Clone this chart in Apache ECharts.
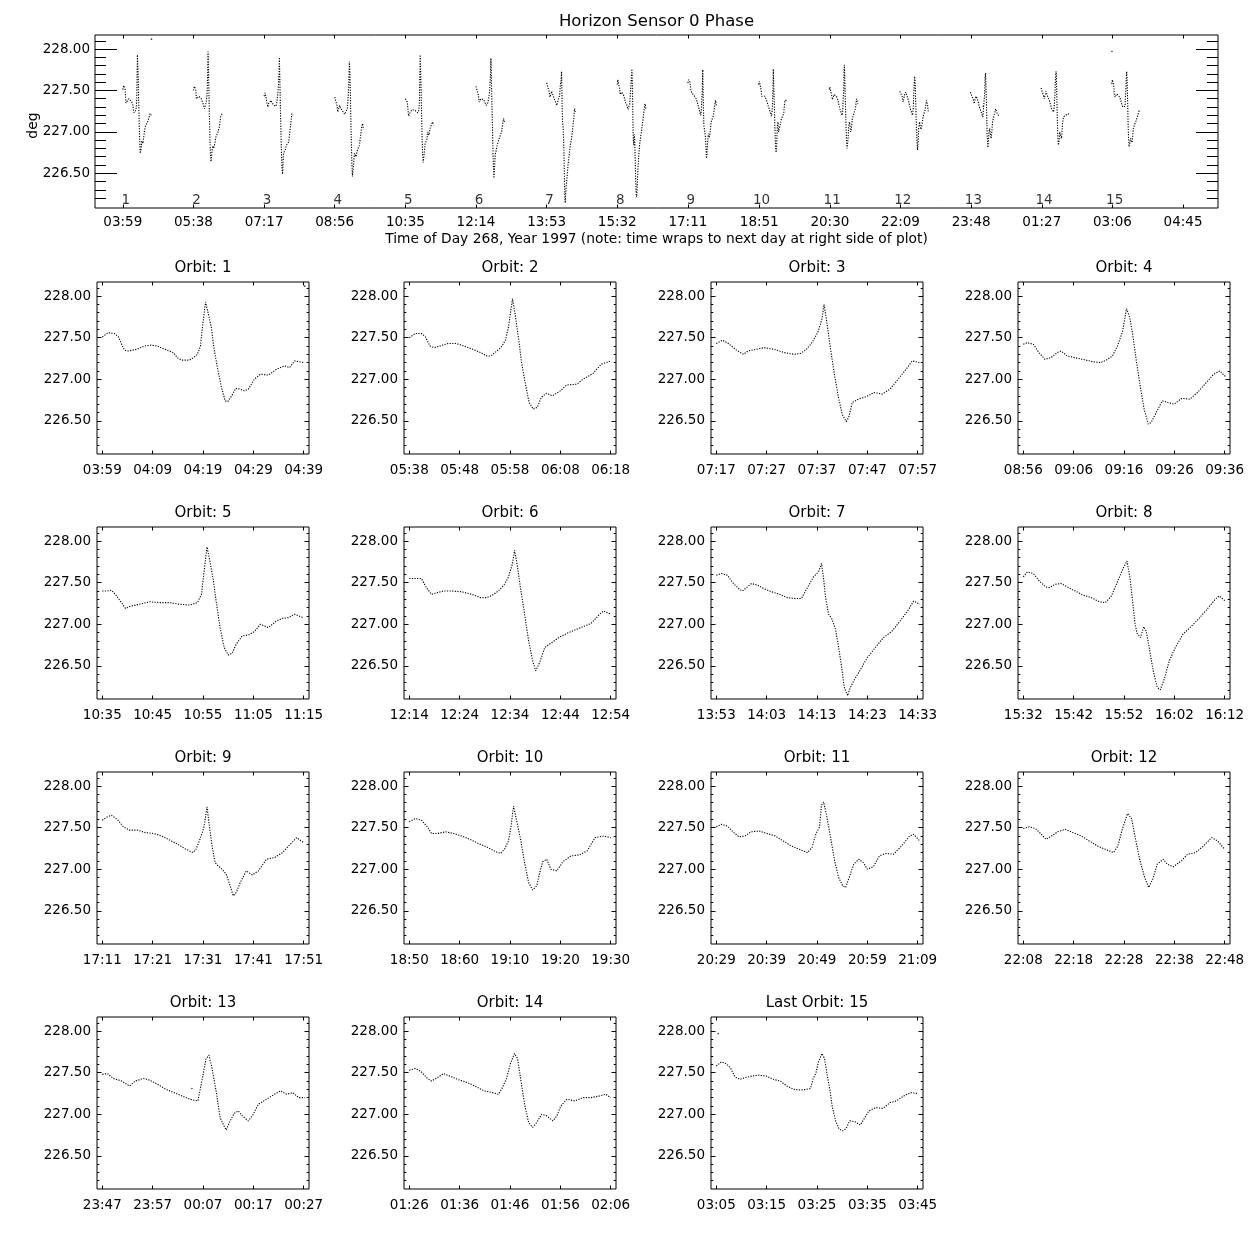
<!DOCTYPE html>
<html><head><meta charset="utf-8">
<script src="https://cdn.jsdelivr.net/npm/echarts@6/dist/echarts.min.js"></script>
<style>html,body{margin:0;padding:0;background:#fff}#c{width:1250px;height:1250px}</style>
</head><body><div id="c"></div>
<script>
// ---------------- DATA ----------------
const chartTitle = "Horizon Sensor 0 Phase";
const topXTitle = "Time of Day 268, Year 1997 (note: time wraps to next day at right side of plot)";
const yTitle = "deg";
const topTickLabels = ["03:59","05:38","07:17","08:56","10:35","12:14","13:53","15:32","17:11","18:51","20:30","22:09","23:48","01:27","03:06","04:45"];
const orbitTitles = ["Orbit: 1","Orbit: 2","Orbit: 3","Orbit: 4","Orbit: 5","Orbit: 6","Orbit: 7","Orbit: 8","Orbit: 9","Orbit: 10","Orbit: 11","Orbit: 12","Orbit: 13","Orbit: 14","Last Orbit: 15"];
const orbitTickLabels = [
 ["03:59","04:09","04:19","04:29","04:39"],
 ["05:38","05:48","05:58","06:08","06:18"],
 ["07:17","07:27","07:37","07:47","07:57"],
 ["08:56","09:06","09:16","09:26","09:36"],
 ["10:35","10:45","10:55","11:05","11:15"],
 ["12:14","12:24","12:34","12:44","12:54"],
 ["13:53","14:03","14:13","14:23","14:33"],
 ["15:32","15:42","15:52","16:02","16:12"],
 ["17:11","17:21","17:31","17:41","17:51"],
 ["18:50","18:60","19:10","19:20","19:30"],
 ["20:29","20:39","20:49","20:59","21:09"],
 ["22:08","22:18","22:28","22:38","22:48"],
 ["23:47","23:57","00:07","00:17","00:27"],
 ["01:26","01:36","01:46","01:56","02:06"],
 ["03:05","03:15","03:25","03:35","03:45"]
];
const yMajorTicks = [226.5,227.0,227.5,228.0];
const yMinorTicks = [226.2,226.3,226.4,226.6,226.7,226.8,226.9,227.1,227.2,227.3,227.4,227.6,227.7,227.8,227.9,228.1];
const yRange = [226.1,228.17];
const topYRange = [226.08,228.17];
const orbitLabelY = 226.18;

// [minutes since orbit start, phase deg]
const orbit1 = [[0,227.51],[1.2,227.56],[2.4,227.55],[3.2,227.51],[4,227.40],[4.4,227.35],[5.2,227.34],[6.8,227.36],[8.4,227.40],[9.7,227.41],[10.9,227.40],[12.5,227.36],[14.1,227.32],[14.9,227.26],[15.7,227.23],[17.3,227.23],[18.1,227.26],[18.9,227.30],[19.5,227.40],[19.9,227.63],[20.5,227.93],[21.2,227.75],[21.7,227.61],[22.1,227.40],[22.8,227.16],[23.6,226.92],[24.4,226.74],[24.9,226.73],[25.7,226.80],[26.5,226.89],[27.4,226.88],[28.2,226.86],[29.0,226.88],[30.2,227.00],[31.4,227.06],[33,227.05],[34.6,227.12],[36.2,227.16],[37.2,227.14],[38.2,227.22],[40,227.20]];
const orbit2 = [[0,227.50],[1.2,227.55],[2.4,227.55],[3.2,227.51],[4.1,227.40],[4.9,227.38],[6.1,227.40],[7.7,227.43],[9.3,227.43],[10.9,227.40],[12.6,227.36],[14.2,227.32],[15.4,227.28],[16.2,227.28],[17.4,227.34],[18.2,227.38],[19.1,227.47],[19.7,227.63],[20.5,227.97],[21.1,227.75],[21.7,227.49],[22.3,227.20],[23.0,226.96],[23.8,226.72],[24.6,226.64],[25.4,226.66],[26.2,226.78],[27.2,226.83],[28.4,226.80],[30,226.86],[31.2,226.93],[33.3,226.94],[34.5,227.00],[36.5,227.07],[38.1,227.18],[40,227.22]];
const orbit3 = [[0,227.43],[1.2,227.47],[2.4,227.43],[4,227.35],[5.4,227.30],[6.3,227.34],[7.9,227.36],[9.5,227.38],[11.5,227.36],[13.5,227.32],[15.5,227.30],[16.7,227.31],[17.9,227.36],[19,227.44],[20.2,227.57],[21,227.73],[21.4,227.90],[22,227.67],[22.6,227.40],[23.4,227.08],[24.2,226.80],[25,226.58],[25.8,226.49],[26.3,226.54],[27,226.72],[28.2,226.76],[29.8,226.79],[31.3,226.84],[32.9,226.82],[34.5,226.88],[36.1,227.00],[37.7,227.12],[38.9,227.22],[40.4,227.20]];
const orbit4 = [[0,227.42],[0.8,227.44],[2,227.42],[3.1,227.32],[4.3,227.24],[5.5,227.26],[6.7,227.32],[7.5,227.34],[8.7,227.28],[10.2,227.26],[11.8,227.24],[13.8,227.21],[15.4,227.20],[16.5,227.23],[17.7,227.28],[18.7,227.40],[19.7,227.57],[20.5,227.85],[21.1,227.75],[21.7,227.55],[22.4,227.24],[23.2,226.92],[24,226.64],[24.8,226.46],[25.4,226.48],[26.4,226.60],[27.6,226.74],[28.7,226.72],[29.9,226.70],[31.5,226.77],[33.1,226.76],[34.6,226.84],[36.2,226.95],[37.8,227.06],[39,227.10],[40.2,227.03]];
const orbit5 = [[0,227.40],[1,227.40],[1.8,227.41],[2.6,227.36],[3.8,227.26],[4.6,227.19],[5.8,227.22],[7.4,227.24],[9.4,227.27],[11.4,227.26],[13.4,227.26],[15.4,227.24],[17.4,227.23],[18.9,227.26],[19.7,227.36],[20.2,227.63],[20.8,227.93],[21.4,227.75],[22.1,227.51],[22.6,227.28],[23.4,226.96],[24.2,226.72],[25,226.63],[25.8,226.65],[26.6,226.76],[27.8,226.86],[29,226.87],[30.2,226.91],[31.4,227.00],[33,226.96],[34.6,227.04],[35.8,227.07],[37,227.08],[38.2,227.12],[39.8,227.08]];
const orbit6 = [[0,227.55],[1.2,227.55],[2.4,227.55],[3.4,227.44],[4.4,227.36],[5.6,227.38],[6.8,227.40],[8.4,227.40],[10.4,227.39],[12.4,227.36],[14.1,227.32],[15.3,227.32],[16.5,227.35],[17.7,227.40],[18.9,227.48],[19.7,227.57],[20.5,227.73],[20.9,227.89],[21.5,227.69],[22.1,227.43],[22.9,227.12],[23.7,226.80],[24.5,226.56],[25.1,226.44],[25.9,226.54],[26.9,226.72],[28.1,226.77],[29.7,226.84],[31.3,226.89],[32.9,226.93],[34.5,226.97],[36.1,227.01],[37.8,227.12],[38.6,227.16],[40,227.12]];
const orbit7 = [[0,227.59],[1,227.61],[2.2,227.59],[3.4,227.49],[4.6,227.42],[5.2,227.40],[6,227.44],[7,227.49],[8.2,227.47],[9.4,227.43],[11,227.39],[12.6,227.36],[14.1,227.32],[15.7,227.31],[16.9,227.31],[18.1,227.44],[19.3,227.57],[20.3,227.63],[20.9,227.73],[21.3,227.55],[21.7,227.32],[22.3,227.12],[23,227.06],[23.7,226.93],[24.3,226.72],[24.9,226.48],[25.4,226.24],[26.1,226.14],[26.5,226.22],[27.3,226.32],[28.5,226.44],[30,226.60],[31.6,226.72],[33.2,226.84],[34.8,226.91],[36.4,227.03],[38,227.16],[39.2,227.28],[40.4,227.24]];
const orbit8 = [[0,227.57],[0.8,227.63],[2,227.61],[3.2,227.52],[4.4,227.45],[5.2,227.44],[6.3,227.48],[7.5,227.49],[8.7,227.45],[10.3,227.40],[11.9,227.35],[13.5,227.32],[15.1,227.27],[16.3,227.26],[17.5,227.34],[18.7,227.51],[19.8,227.67],[20.6,227.76],[21.2,227.55],[21.7,227.28],[22.2,227.00],[22.6,226.89],[23.3,226.84],[23.9,226.97],[24.4,226.92],[25,226.72],[25.8,226.44],[26.6,226.24],[27.2,226.21],[28,226.34],[29,226.56],[30.2,226.72],[31.7,226.88],[33.3,226.97],[34.9,227.07],[36.5,227.18],[38.1,227.30],[38.9,227.34],[40.1,227.28]];
const orbit9 = [[0,227.59],[1,227.63],[1.8,227.65],[3,227.60],[4.2,227.51],[5.4,227.47],[7,227.47],[8.6,227.44],[10.2,227.43],[11.8,227.40],[13.4,227.35],[15,227.30],[16.6,227.24],[18,227.20],[18.6,227.24],[19.4,227.36],[20.2,227.51],[20.8,227.75],[21.2,227.55],[21.8,227.28],[22.4,227.08],[23,227.04],[23.8,227.00],[24.6,226.94],[25.4,226.80],[26,226.68],[26.6,226.72],[27.4,226.84],[28.6,226.98],[29.8,226.93],[31,226.98],[32.6,227.12],[34.2,227.14],[35.8,227.20],[37,227.28],[38.6,227.38],[40,227.32]];
const orbit10 = [[0,227.57],[1.2,227.61],[2.4,227.59],[3.6,227.51],[4.4,227.43],[5.6,227.43],[7.2,227.45],[8.8,227.43],[10.4,227.40],[12,227.36],[13.7,227.31],[15.3,227.27],[16.9,227.22],[18.1,227.19],[18.9,227.24],[19.7,227.34],[20.2,227.51],[20.7,227.76],[21.3,227.59],[22.1,227.36],[22.9,227.08],[23.7,226.84],[24.5,226.75],[25.3,226.80],[25.9,226.96],[26.5,227.09],[27.3,227.12],[28.1,227.00],[29.3,226.98],[30.5,227.09],[32.1,227.16],[33.7,227.17],[35.3,227.22],[36.9,227.38],[38.6,227.40],[40,227.38]];
const orbit11 = [[0,227.51],[1,227.54],[2.2,227.52],[3.3,227.45],[4.5,227.39],[5.7,227.40],[6.9,227.45],[8.5,227.46],[10.1,227.43],[11.7,227.40],[13.3,227.34],[14.9,227.28],[16.5,227.24],[18.1,227.20],[19,227.26],[19.8,227.43],[20.5,227.51],[20.9,227.77],[21.3,227.81],[21.9,227.65],[22.7,227.38],[23.5,227.10],[24.3,226.90],[25.1,226.80],[25.7,226.78],[26.5,226.92],[27.3,227.06],[28.3,227.12],[29.2,227.08],[30,227.00],[31.2,227.03],[32.4,227.16],[33.6,227.19],[35.2,227.18],[36.8,227.28],[38.4,227.40],[39.2,227.42],[40.4,227.34]];
const orbit12 = [[0,227.49],[1.2,227.51],[2.4,227.49],[3.6,227.42],[4.5,227.36],[5.6,227.40],[6.8,227.45],[8.3,227.48],[9.9,227.44],[11.5,227.40],[13.1,227.34],[14.7,227.28],[16.3,227.24],[17.9,227.20],[18.8,227.28],[19.6,227.47],[20.7,227.67],[21.5,227.61],[22.3,227.36],[23.1,227.12],[24.1,226.90],[24.9,226.78],[25.7,226.88],[26.6,227.06],[27.8,227.12],[28.6,227.06],[29.8,227.03],[31.4,227.10],[32.6,227.18],[34.2,227.20],[35.8,227.28],[37.4,227.38],[38.6,227.34],[40,227.24]];
const orbit13 = [[0,227.48],[1,227.49],[2.2,227.43],[3.8,227.40],[5.4,227.34],[6.6,227.40],[8.2,227.43],[9.4,227.41],[11,227.36],[12.6,227.30],[14.2,227.26],[15.8,227.22],[17.4,227.18],[19,227.16],[20,227.47],[20.6,227.67],[21.2,227.71],[21.8,227.55],[22.6,227.28],[23.4,226.96],[24,226.88],[24.6,226.81],[25.4,226.92],[26.2,227.01],[27,227.04],[27.8,226.98],[29,226.92],[29.8,226.98],[31,227.12],[32.6,227.18],[34.2,227.24],[35.4,227.28],[36.6,227.24],[37.8,227.26],[39,227.20],[40.2,227.20]];
const orbit14 = [[0,227.53],[1.2,227.55],[2.4,227.51],[3.6,227.43],[4.4,227.40],[5.6,227.44],[6.8,227.49],[8.4,227.45],[10,227.41],[11.6,227.38],[13.3,227.33],[14.9,227.28],[16.5,227.26],[17.7,227.24],[18.5,227.32],[19.3,227.43],[20.1,227.61],[20.9,227.73],[21.5,227.67],[22.1,227.43],[22.9,227.12],[23.7,226.90],[24.5,226.84],[25.3,226.90],[26.3,227.00],[27.3,226.98],[28.5,226.92],[29.3,226.98],[30.1,227.10],[31.3,227.18],[32.9,227.16],[34.5,227.20],[36.1,227.20],[37.8,227.22],[39,227.24],[40,227.20]];
const orbit15 = [[0,227.58],[1,227.63],[1.9,227.61],[2.8,227.56],[3.7,227.45],[4.7,227.42],[5.7,227.44],[7.1,227.46],[8.5,227.47],[9.9,227.46],[11.3,227.42],[12.7,227.40],[14,227.34],[15.4,227.30],[16.8,227.29],[17.9,227.30],[18.7,227.31],[19.2,227.42],[19.8,227.50],[20.3,227.63],[21,227.73],[21.5,227.67],[22,227.48],[22.6,227.28],[23,227.10],[23.7,226.92],[24.4,226.82],[25.1,226.80],[25.8,226.83],[26.5,226.92],[27.5,226.91],[28.6,226.87],[29.3,226.94],[30.3,227.04],[31.7,227.08],[33.1,227.07],[34.5,227.14],[35.8,227.16],[37.2,227.22],[38.6,227.26],[40,227.25]];
// isolated stray samples: [orbit number, minute, deg]
const strayPoints = [[1,40.2,228.12],[13,17.8,227.31],[15,0.4,227.97]];

const orbits = [orbit1,orbit2,orbit3,orbit4,orbit5,orbit6,orbit7,orbit8,orbit9,orbit10,orbit11,orbit12,orbit13,orbit14,orbit15];

// ---------------- LAYOUT ----------------
const FONT = 'DejaVu Sans';
const FS = 13.5;
const TOPBOX = {left:95, top:35, width:1123, height:173};
const PL = [97,404,711,1018], PT = [282,527,772,1017], PW = 212, PH = 172;
const TOP_XRANGE = [-39, 1535];
const SMALL_XRANGE = [-1.05, 41.05];

function toMin(s){const p=s.split(':').map(Number);return p[0]*60+p[1];}
function unwrap(labels, base){
  const b = toMin(base); let prev = -1e9; const out=[];
  labels.forEach(l=>{let m=toMin(l)-b; while(m<prev) m+=1440; out.push(m); prev=m;});
  return out;
}
const topTickVals = unwrap(topTickLabels, topTickLabels[0]);
const orbitStarts = unwrap(orbitTickLabels.map(a=>a[0]), topTickLabels[0]);

const option = {animation:false, backgroundColor:'#fff', grid:[], xAxis:[], yAxis:[], series:[], graphic:[]};
const black = '#000';

function labelMap(vals, labels){
  return v => { for(let i=0;i<vals.length;i++){ if(Math.abs(vals[i]-v)<0.01) return labels[i]; } return ''; };
}

function addPanel(g, xr, xVals, xLabels, yr, tl){
  const gi = option.grid.length;
  option.grid.push({left:g.left, top:g.top, width:g.width, height:g.height, show:true, borderColor:black, borderWidth:1, backgroundColor:'transparent'});
  const xi = option.xAxis.length;
  const fmt = labelMap(xVals, xLabels);
  option.xAxis.push({type:'value', gridIndex:gi, min:xr[0], max:xr[1], position:'bottom',
    axisLine:{show:false, onZero:false}, splitLine:{show:false},
    axisTick:{show:true, inside:true, length:tl.x, customValues:xVals, lineStyle:{color:black,width:1}},
    axisLabel:{show:true, customValues:xVals, margin:tl.xm, formatter:fmt, color:black, fontSize:FS, fontFamily:FONT}});
  option.xAxis.push({type:'value', gridIndex:gi, min:xr[0], max:xr[1], position:'top',
    axisLine:{show:false, onZero:false}, splitLine:{show:false},
    axisTick:{show:true, inside:true, length:tl.x, customValues:xVals, lineStyle:{color:black,width:1}},
    axisLabel:{show:false}});
  const yi = option.yAxis.length;
  const mk = (pos, vals, len, lab) => ({type:'value', gridIndex:gi, min:yr[0], max:yr[1], position:pos,
    axisLine:{show:false, onZero:false}, splitLine:{show:false},
    axisTick:{show:true, inside:true, length:len, customValues:vals, lineStyle:{color:black,width:1}},
    axisLabel: lab ? {show:true, customValues:vals, margin:tl.ym, formatter:v=>v.toFixed(2), color:black, fontSize:FS, fontFamily:FONT} : {show:false}});
  option.yAxis.push(mk('left', yMajorTicks, tl.yMaj, true));
  option.yAxis.push(mk('left', yMinorTicks, tl.yMin, false));
  option.yAxis.push(mk('right', yMajorTicks, tl.yMaj, false));
  option.yAxis.push(mk('right', yMinorTicks, tl.yMin, false));
  return {xi, yi};
}

const lineStyle = {color:black, width:1.1, type:[1.2,1.4]};

// top overview panel
const topP = addPanel(TOPBOX, TOP_XRANGE, topTickVals, topTickLabels, topYRange, {x:3.5, xm:7, yMaj:22, yMin:11, ym:5});
orbits.forEach((o,i)=>{
  option.series.push({type:'line', xAxisIndex:topP.xi, yAxisIndex:topP.yi, symbol:'none', lineStyle,
    data:o.map(p=>[orbitStarts[i]+p[0], p[1]])});
});
option.series.push({type:'scatter', xAxisIndex:topP.xi, yAxisIndex:topP.yi, symbolSize:1.6, itemStyle:{color:black},
  data: strayPoints.map(s=>[orbitStarts[s[0]-1]+s[1], s[2]])});
option.series.push({type:'scatter', xAxisIndex:topP.xi, yAxisIndex:topP.yi, symbolSize:1, itemStyle:{color:'rgba(0,0,0,0)'},
  label:{show:true, position:'inside', offset:[3,1], formatter:p=>p.value[2], color:black, fontSize:FS, fontFamily:FONT},
  data: orbitStarts.map((s,i)=>[s, orbitLabelY, String(i+1)])});

// orbit panels
orbits.forEach((o,i)=>{
  const col = i%4, row = Math.floor(i/4);
  const g = {left:PL[col], top:PT[row], width:PW, height:PH};
  const xVals = unwrap(orbitTickLabels[i], orbitTickLabels[i][0]);
  const p = addPanel(g, SMALL_XRANGE, xVals, orbitTickLabels[i], yRange, {x:3.5, xm:9, yMaj:4.5, yMin:2.3, ym:6});
  option.series.push({type:'line', xAxisIndex:p.xi, yAxisIndex:p.yi, symbol:'none', lineStyle, data:o});
  const st = strayPoints.filter(s=>s[0]===i+1).map(s=>[s[1],s[2]]);
  if(st.length) option.series.push({type:'scatter', xAxisIndex:p.xi, yAxisIndex:p.yi, symbolSize:1.6, itemStyle:{color:black}, data:st});
  option.graphic.push({type:'text', x:g.left+g.width/2, y:g.top-14,
    style:{text:orbitTitles[i], fill:black, font:`15px "${FONT}"`, textAlign:'center', textVerticalAlign:'middle'}});
});

option.graphic.push({type:'text', x:TOPBOX.left+TOPBOX.width/2, y:TOPBOX.top-13,
  style:{text:chartTitle, fill:black, font:`16.5px "${FONT}"`, textAlign:'center', textVerticalAlign:'middle'}});
option.graphic.push({type:'text', x:TOPBOX.left+TOPBOX.width/2, y:TOPBOX.top+TOPBOX.height+31,
  style:{text:topXTitle, fill:black, font:`13.8px "${FONT}"`, textAlign:'center', textVerticalAlign:'middle'}});
option.graphic.push({type:'text', x:33, y:TOPBOX.top+TOPBOX.height/2+4, rotation:Math.PI/2,
  style:{text:yTitle, fill:black, font:`14px "${FONT}"`, textAlign:'center', textVerticalAlign:'middle'}});

const chart = echarts.init(document.getElementById('c'), null, {renderer:'canvas'});
chart.setOption(option);
</script></body></html>
